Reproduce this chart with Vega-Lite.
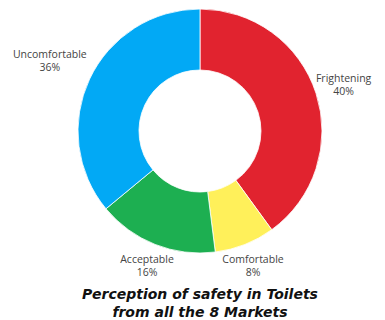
{
  "$schema": "https://vega.github.io/schema/vega-lite/v6.json",
  "autosize": "none",
  "width": 370,
  "height": 262,
  "padding": {"left": 15, "right": 0, "top": 0, "bottom": 58},
  "background": "white",
  "config": {"view": {"stroke": null}},
  "title": {
    "text": ["Perception of safety in Toilets", "from all the 8 Markets"],
    "orient": "bottom",
    "anchor": "middle",
    "baseline": "top",
    "offset": 2,
    "font": "DejaVu Sans",
    "fontSize": 14,
    "fontWeight": "bold",
    "fontStyle": "italic",
    "color": "#111111",
    "lineHeight": 18
  },
  "data": {
    "values": [
      {"category": "Frightening", "rank": 1, "value": 40, "label": "Frightening\n40%"},
      {"category": "Comfortable", "rank": 2, "value": 8, "label": "Comfortable\n8%"},
      {"category": "Acceptable", "rank": 3, "value": 16, "label": "Acceptable\n16%"},
      {"category": "Uncomfortable", "rank": 4, "value": 36, "label": "Uncomfortable\n36%"}
    ]
  },
  "encoding": {
    "theta": {"field": "value", "type": "quantitative", "stack": true},
    "order": {"field": "rank", "type": "quantitative", "sort": "ascending"},
    "color": {
      "field": "category",
      "type": "nominal",
      "scale": {
        "domain": ["Frightening", "Comfortable", "Acceptable", "Uncomfortable"],
        "range": ["#E1232F", "#FFF05A", "#1DAF51", "#02A9F5"]
      },
      "legend": null
    }
  },
  "layer": [
    {
      "mark": {"type": "arc", "outerRadius": 122, "innerRadius": 61, "stroke": "white", "strokeWidth": 0.8}
    },
    {
      "mark": {
        "type": "text", "radius": 144, "dy": -5,
        "font": "Open Sans", "fontSize": 10.5, "lineBreak": "\n", "lineHeight": 13,
        "align": "center", "baseline": "middle", "fill": "#444444"
      },
      "encoding": {
        "text": {"condition": {"test": "datum.rank == 2 || datum.rank == 3", "field": "label"}, "value": ""},
        "color": {"value": "#444444"}
      }
    },
    {
      "mark": {
        "type": "text", "radius": 151, "dy": -5,
        "font": "Open Sans", "fontSize": 10.5, "lineBreak": "\n", "lineHeight": 13,
        "align": "center", "baseline": "middle", "fill": "#444444"
      },
      "encoding": {
        "text": {"condition": {"test": "datum.rank == 1", "field": "label"}, "value": ""},
        "color": {"value": "#444444"}
      }
    },
    {
      "mark": {
        "type": "text", "radius": 166, "dy": -5,
        "font": "Open Sans", "fontSize": 10.5, "lineBreak": "\n", "lineHeight": 13,
        "align": "center", "baseline": "middle", "fill": "#444444"
      },
      "encoding": {
        "text": {"condition": {"test": "datum.rank == 4", "field": "label"}, "value": ""},
        "color": {"value": "#444444"}
      }
    }
  ]
}
